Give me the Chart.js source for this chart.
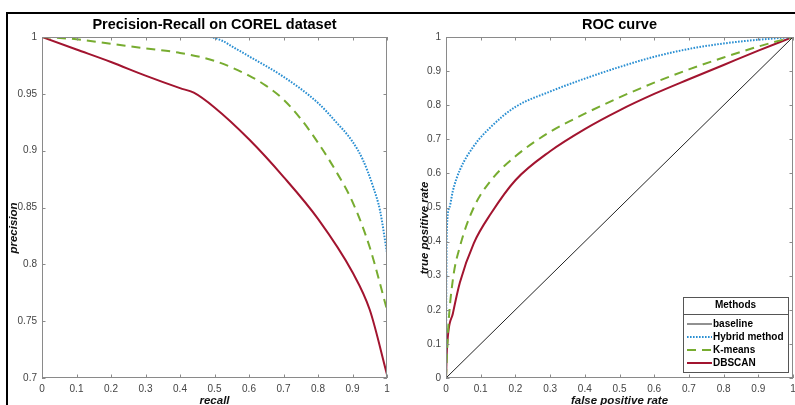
<!DOCTYPE html>
<html><head><meta charset="utf-8">
<script src="https://cdn.jsdelivr.net/npm/chart.js@4.4.0/dist/chart.umd.min.js"></script>
<style>
html,body{margin:0;padding:0;background:#fff;}
#wrap{position:relative;width:795px;height:405px;overflow:hidden;background:#fff;}
canvas{position:absolute;top:0;}
#frame{position:absolute;left:6px;top:12px;width:820px;height:420px;border-top:2px solid #000;border-left:2px solid #000;}
</style></head><body>
<div id="wrap">
<div id="frame"></div>
<canvas id="pr" width="400" height="405" style="left:0"></canvas>
<canvas id="roc" width="395" height="405" style="left:400px"></canvas>
</div>
<script>
// ---------- data ----------
const xTicks = [0,0.1,0.2,0.3,0.4,0.5,0.6,0.7,0.8,0.9,1];
const prYTicks = [0.7,0.75,0.8,0.85,0.9,0.95,1];
const rocYTicks = [0,0.1,0.2,0.3,0.4,0.5,0.6,0.7,0.8,0.9,1];

const hybridRecall    = [0,0.2,0.4,0.48,0.52,0.56,0.6,0.7,0.8,0.85,0.9,0.93,0.96,0.98,1.0];
const hybridPrecision = [1,1,1,1,0.997,0.99,0.983,0.965,0.942,0.926,0.908,0.892,0.868,0.847,0.81];
const kmeansRecall    = [0,0.1,0.2,0.3,0.4,0.5,0.6,0.65,0.7,0.75,0.8,0.85,0.9,0.95,1.0];
const kmeansPrecision = [1,0.998,0.994,0.99,0.986,0.979,0.966,0.957,0.945,0.928,0.907,0.883,0.855,0.815,0.76];
const dbscanRecall    = [0,0.1,0.2,0.3,0.4,0.44,0.5,0.6,0.7,0.8,0.9,0.95,1.0];
const dbscanPrecision = [1,0.989,0.978,0.966,0.955,0.951,0.938,0.91,0.877,0.84,0.793,0.76,0.703];

const baselineFpr = [0,1];
const baselineTpr = [0,1];
const hybridFpr = [0,0.001,0.003,0.01,0.02,0.04,0.08,0.13,0.2,0.3,0.4,0.5,0.6,0.7,0.8,0.9,1];
const hybridTpr = [0,0.3,0.45,0.5,0.55,0.61,0.68,0.737,0.795,0.84,0.878,0.912,0.942,0.965,0.981,0.992,1];
const kmeansFpr = [0,0.006,0.02,0.04,0.08,0.13,0.2,0.3,0.4,0.5,0.6,0.7,0.8,0.9,1];
const kmeansTpr = [0,0.14,0.29,0.385,0.5,0.58,0.65,0.722,0.775,0.823,0.866,0.905,0.94,0.972,1];
const dbscanFpr = [0,0.003,0.02,0.04,0.08,0.13,0.2,0.3,0.4,0.5,0.6,0.7,0.8,0.9,1];
const dbscanTpr = [0,0.09,0.19,0.28,0.395,0.483,0.58,0.665,0.73,0.785,0.833,0.876,0.918,0.96,1];

const seriesNames = ['baseline','Hybrid method','K-means','DBSCAN'];

// ---------- helpers ----------
const FONT = "'Liberation Sans', Arial, Helvetica, sans-serif";
Chart.defaults.font.family = FONT;
const pts = (xs, ys) => xs.map((x,i)=>({x, y: ys[i]}));
const fmt = v => String(+(+v).toFixed(2));

const STYLE = {
  baseline: {borderColor:'#222222', borderWidth:1, borderDash:[]},
  hybrid:   {borderColor:'#2a8fd2', borderWidth:2, borderDash:[1.6,1.4]},
  kmeans:   {borderColor:'#77ac30', borderWidth:2, borderDash:[9,6]},
  dbscan:   {borderColor:'#a2142f', borderWidth:2, borderDash:[]}
};
function ds(label, data, st){
  return Object.assign({label, data, showLine:true, pointRadius:0, fill:false,
    cubicInterpolationMode:'monotone', borderCapStyle:'butt'}, st);
}

// box + inward ticks on all four sides (MATLAB style)
const boxTicks = {
  id:'boxTicks',
  afterDraw(chart){
    const {ctx, chartArea:a, scales} = chart;
    ctx.save();
    ctx.strokeStyle = '#8a8a8a'; ctx.lineWidth = 1;
    ctx.strokeRect(a.left+0.5, a.top+0.5, a.right-a.left-1, a.bottom-a.top-1);
    const L = 3.5;
    ctx.beginPath();
    scales.x.ticks.forEach(t=>{
      const px = Math.round(scales.x.getPixelForValue(t.value))+0.5;
      ctx.moveTo(px, a.bottom); ctx.lineTo(px, a.bottom-L);
      ctx.moveTo(px, a.top); ctx.lineTo(px, a.top+L);
    });
    scales.y.ticks.forEach(t=>{
      const py = Math.round(scales.y.getPixelForValue(t.value))+0.5;
      ctx.moveTo(a.left, py); ctx.lineTo(a.left+L, py);
      ctx.moveTo(a.right, py); ctx.lineTo(a.right-L, py);
    });
    ctx.stroke();
    ctx.restore();
  }
};

// y title drawn rotated at a chosen place (text from scale options)
const yTitle = {
  id:'yTitle',
  afterDraw(chart, args, opts){
    const t = chart.options.scales.y.title;
    const {ctx} = chart;
    ctx.save();
    ctx.translate(opts.x, opts.y);
    ctx.rotate(-Math.PI/2);
    ctx.font = "italic bold 11.5px " + FONT;
    ctx.fillStyle = '#111';
    ctx.textAlign = 'center'; ctx.textBaseline = 'middle';
    ctx.fillText(t.text, 0, 0);
    ctx.restore();
  }
};

// MATLAB-like legend box with title
const methodsLegend = {
  id:'methodsLegend',
  afterDraw(chart, args, o){
    if(!o.show) return;
    const {ctx} = chart;
    ctx.save();
    ctx.fillStyle='#fff'; ctx.fillRect(o.x, o.y, o.w, o.h);
    ctx.strokeStyle='#555'; ctx.lineWidth=1;
    ctx.strokeRect(o.x+0.5, o.y+0.5, o.w, o.h);
    ctx.fillStyle='#000';
    ctx.font = "bold 10px " + FONT;
    ctx.textAlign='center'; ctx.textBaseline='middle';
    ctx.fillText(o.title, o.x + o.w/2, o.y + 8.5);
    ctx.beginPath(); ctx.moveTo(o.x, o.y+17.5); ctx.lineTo(o.x+o.w, o.y+17.5); ctx.stroke();
    ctx.textAlign='left';
    chart.data.datasets.forEach((d,i)=>{
      const yy = o.y + 27 + i*13;
      ctx.save();
      ctx.strokeStyle = d.borderColor; ctx.lineWidth = d.borderWidth;
      ctx.setLineDash(d.borderDash || []);
      ctx.beginPath(); ctx.moveTo(o.x+4, yy); ctx.lineTo(o.x+29, yy); ctx.stroke();
      ctx.restore();
      ctx.fillStyle='#000';
      ctx.fillText(d.label, o.x+30, yy+0.5);
    });
    ctx.restore();
  }
};

function makeOptions(cfg){
  return {
    responsive:false, animation:false, devicePixelRatio:1,
    layout:{padding:{left:0, right:cfg.padRight, top:0, bottom:0}},
    plugins:{
      legend:{display:false}, tooltip:{enabled:false},
      title:{display:true, text:cfg.title, color:'#000', fullSize:false,
        font:{size:14.5, weight:'bold', family:FONT, lineHeight:1.2},
        padding:{top:16, bottom:3.6}},
      yTitle:{x:cfg.yTitleX, y:228},
      methodsLegend: cfg.legend || {show:false}
    },
    scales:{
      x:{type:'linear', min:0, max:1,
        grid:{display:false, drawTicks:false}, border:{display:false},
        afterBuildTicks: ax => { ax.ticks = xTicks.map(v=>({value:v})); },
        afterFit: ax => { ax.height = 27; ax.paddingLeft = 0; ax.paddingRight = 0; },
        ticks:{autoSkip:false, maxRotation:0, padding:5, color:'#444',
          font:{size:10, family:FONT}, callback: v => fmt(v)},
        title:{display:true, text:cfg.xTitle, color:'#111',
          font:{size:11.5, weight:'bold', style:'italic', family:FONT, lineHeight:1.2},
          padding:{top:0, bottom:-3}}
      },
      y:{type:'linear', min:cfg.yMin, max:1,
        grid:{display:false, drawTicks:false}, border:{display:false},
        afterBuildTicks: ax => { ax.ticks = cfg.yTicks.map(v=>({value:v})); },
        afterFit: ax => { ax.width = cfg.yWidth; ax.paddingTop = 0; ax.paddingBottom = 0; },
        ticks:{autoSkip:false, padding:5, color:'#444',
          font:{size:10, family:FONT}, callback: v => fmt(v)},
        title:{display:false, text:cfg.yTitle}
      }
    }
  };
}

new Chart(document.getElementById('pr'), {
  type:'scatter',
  data:{datasets:[
    ds(seriesNames[1], pts(hybridRecall, hybridPrecision), STYLE.hybrid),
    ds(seriesNames[2], pts(kmeansRecall, kmeansPrecision), STYLE.kmeans),
    ds(seriesNames[3], pts(dbscanRecall, dbscanPrecision), STYLE.dbscan)
  ]},
  options: makeOptions({title:'Precision-Recall on COREL dataset', xTitle:'recall', yTitle:'precision',
    yMin:0.7, yTicks:prYTicks, yWidth:42, padRight:13, yTitleX:14}),
  plugins:[boxTicks, yTitle, methodsLegend]
});

new Chart(document.getElementById('roc'), {
  type:'scatter',
  data:{datasets:[
    ds(seriesNames[0], pts(baselineFpr, baselineTpr), STYLE.baseline),
    ds(seriesNames[1], pts(hybridFpr, hybridTpr), STYLE.hybrid),
    ds(seriesNames[2], pts(kmeansFpr, kmeansTpr), STYLE.kmeans),
    ds(seriesNames[3], pts(dbscanFpr, dbscanTpr), STYLE.dbscan)
  ]},
  options: makeOptions({title:'ROC curve', xTitle:'false positive rate', yTitle:'true positive rate',
    yMin:0, yTicks:rocYTicks, yWidth:46, padRight:2, yTitleX:25,
    legend:{show:true, title:'Methods', x:283, y:297, w:105, h:75}}),
  plugins:[boxTicks, yTitle, methodsLegend]
});
</script>
</body></html>
